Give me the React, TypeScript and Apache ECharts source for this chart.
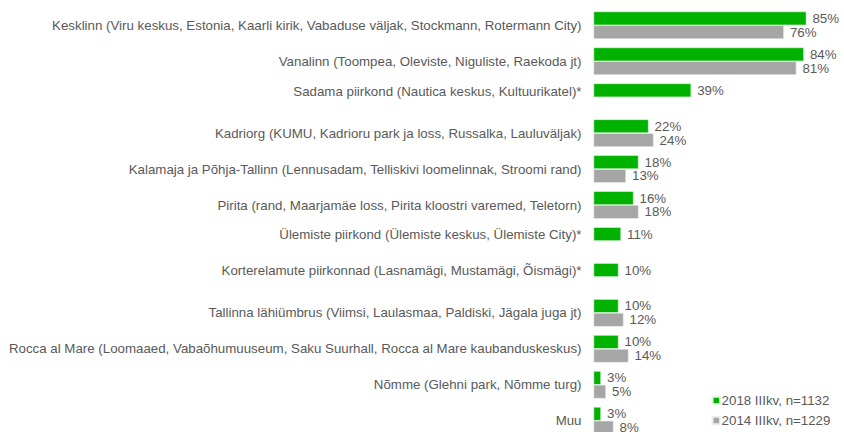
import React, { useEffect, useRef } from "react";
import * as echarts from "echarts";

const categories = [
  "Kesklinn (Viru keskus, Estonia, Kaarli kirik, Vabaduse väljak, Stockmann, Rotermann City)",
  "Vanalinn (Toompea, Oleviste, Niguliste, Raekoda jt)",
  "Sadama piirkond (Nautica keskus, Kultuurikatel)*",
  "Kadriorg (KUMU, Kadrioru park ja loss, Russalka, Lauluväljak)",
  "Kalamaja ja Põhja-Tallinn (Lennusadam, Telliskivi loomelinnak, Stroomi rand)",
  "Pirita (rand, Maarjamäe loss, Pirita kloostri varemed, Teletorn)",
  "Ülemiste piirkond (Ülemiste keskus, Ülemiste City)*",
  "Korterelamute piirkonnad (Lasnamägi, Mustamägi, Õismägi)*",
  "Tallinna lähiümbrus (Viimsi, Laulasmaa, Paldiski, Jägala juga jt)",
  "Rocca al Mare (Loomaaed, Vabaõhumuuseum, Saku Suurhall, Rocca al Mare kaubanduskeskus)",
  "Nõmme (Glehni park, Nõmme turg)",
  "Muu",
];

const series2018Name = "2018 IIIkv, n=1132";
const series2014Name = "2014 IIIkv, n=1229";
const values2018 = [85, 84, 39, 22, 18, 16, 11, 10, 10, 10, 3, 3];
const values2014: (number | null)[] = [76, 81, null, 24, 13, 18, null, null, 12, 14, 5, 8];

export default function App() {
  const ref = useRef<HTMLDivElement>(null);
  useEffect(() => {
    if (!ref.current) return;
    const chart = echarts.init(ref.current, null, { renderer: "svg" });
    const font = "Liberation Sans, Arial, sans-serif";
    const textColor = "#595959";
    const fs = 13.3;
    const labelCfg = {
      show: true,
      position: "right" as const,
      distance: 6,
      formatter: "{c}%",
      color: textColor,
      fontSize: fs,
      fontFamily: font,
    };
    chart.setOption({
      animation: false,
      textStyle: { fontFamily: font },
      grid: { left: 593.5, top: 7.3, width: 254, height: 431.4, containLabel: false },
      xAxis: {
        type: "value",
        min: 0,
        max: 100,
        show: false,
      },
      yAxis: {
        type: "category",
        data: categories,
        inverse: true,
        axisLine: { show: false },
        axisTick: { show: false },
        splitLine: { show: false },
        axisLabel: {
          margin: 12,
          color: textColor,
          fontSize: fs,
          fontFamily: font,
          formatter: (v: string) => {
            const idx = categories.indexOf(v);
            if (idx >= 0 && values2014[idx] == null) return "{s|" + v + "}";
            return v;
          },
          rich: {
            s: {
              color: textColor,
              fontSize: fs,
              fontFamily: font,
              padding: [0, 0, 12, 0],
            },
          },
        },
      },
      legend: {
        orient: "vertical",
        left: 711.5,
        top: 394,
        padding: 0,
        itemWidth: 7.6,
        itemHeight: 7.6,
        itemGap: 7,
        icon: "rect",
        textStyle: { color: textColor, fontSize: fs, fontFamily: font, padding: [0, 0, 0, -3.5] },
        data: [series2018Name, series2014Name],
      },
      series: [
        {
          name: series2018Name,
          type: "bar",
          data: values2018,
          barWidth: 13.8,
          barGap: "0%",
          itemStyle: { color: "#00B200", borderColor: "#e6f5e6", borderWidth: 0.6 },
          label: labelCfg,
        },
        {
          name: series2014Name,
          type: "bar",
          data: values2014,
          barWidth: 13.8,
          barGap: "0%",
          itemStyle: { color: "#A6A6A6", borderColor: "#eeeeee", borderWidth: 0.6 },
          label: labelCfg,
        },
      ],
    });
    return () => chart.dispose();
  }, []);
  return (
    <div style={{ position: "absolute", left: 0, top: 0, width: 844, height: 432, overflow: "hidden" }}>
      <div ref={ref} style={{ width: 844, height: 445 }} />
    </div>
  );
}
